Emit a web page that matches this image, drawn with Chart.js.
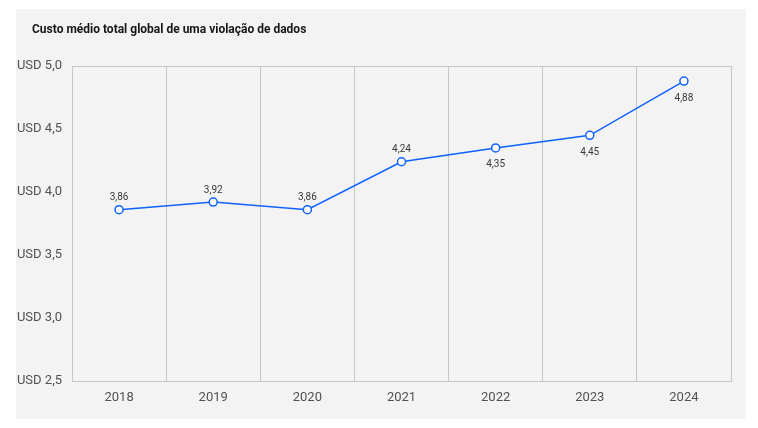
<!DOCTYPE html>
<html>
<head>
<meta charset="utf-8">
<script src="https://cdn.jsdelivr.net/npm/chart.js@4.4.1/dist/chart.umd.min.js"></script>
<style>
  html, body { margin: 0; padding: 0; background: #fff; }
  #wrap { width: 758px; height: 428px; }
</style>
</head>
<body>
<div id="wrap"><canvas id="mycanvas"></canvas></div>
<script>
var years = ['2018', '2019', '2020', '2021', '2022', '2023', '2024'];
var cost = [3.86, 3.92, 3.86, 4.24, 4.35, 4.45, 4.88];
var labelSide = ['top', 'top', 'top', 'top', 'bottom', 'bottom', 'bottom'];
var yTicks = [2.5, 3.0, 3.5, 4.0, 4.5, 5.0];
var titleText = 'Custo médio total global de uma violação de dados';

var FONT = "Roboto, 'Noto Sans', sans-serif";

function fmt(v, d) {
  return v.toFixed(d).replace('.', ',');
}

// gray panel behind the chart, plus the title in its top-left corner
var panelBg = {
  id: 'panelBg',
  beforeDraw: function(chart) {
    var c = chart.ctx;
    c.save();
    c.fillStyle = '#f3f3f3';
    c.fillRect(16, 9, 730, 410);
    c.font = 'bold 12px ' + FONT;
    c.fillStyle = '#161616';
    c.textAlign = 'left';
    c.textBaseline = 'middle';
    c.fillText(titleText, 32, 30);
    c.restore();
  }
};

// value labels next to the points
var valueLabels = {
  id: 'valueLabels',
  afterDatasetsDraw: function(chart) {
    var c = chart.ctx;
    var meta = chart.getDatasetMeta(0);
    c.save();
    c.font = '10px ' + FONT;
    c.fillStyle = '#393939';
    c.textAlign = 'center';
    c.textBaseline = 'middle';
    meta.data.forEach(function(pt, i) {
      var dy = labelSide[i] === 'top' ? -12 : 17;
      c.fillText(fmt(cost[i], 2), pt.x, pt.y + dy);
    });
    c.restore();
  }
};

var ctx = document.getElementById('mycanvas');

var chart = new Chart(ctx, {
  type: 'line',
  data: {
    labels: years,
    datasets: [{
      label: 'Custo médio total',
      data: cost,
      borderColor: '#0f62fe',
      borderWidth: 1.5,
      backgroundColor: '#ffffff',
      pointBackgroundColor: '#ffffff',
      pointBorderColor: '#0f62fe',
      pointBorderWidth: 1.5,
      pointRadius: 4,
      tension: 0
    }]
  },
  options: {
    responsive: true,
    maintainAspectRatio: false,
    animation: false,
    layout: { padding: { left: 0, right: 27, top: 66, bottom: 0 } },
    plugins: {
      legend: { display: false },
      tooltip: { enabled: false },
      title: { display: false }
    },
    scales: {
      x: {
        offset: true,
        grid: { offset: true, color: '#c6c6c6', drawTicks: false },
        border: { color: '#c6c6c6' },
        ticks: { color: '#525252', font: { family: FONT, size: 13 }, padding: 9 },
        afterFit: function(s) { s.height = 47; }
      },
      y: {
        min: 2.5,
        max: 5.0,
        afterBuildTicks: function(s) {
          s.ticks = yTicks.map(function(v) { return { value: v }; });
        },
        grid: {
          drawTicks: false,
          color: function(c) { return c.tick && c.tick.value === 5 ? '#c6c6c6' : 'rgba(0,0,0,0)'; }
        },
        border: { color: '#c6c6c6' },
        ticks: {
          color: '#525252',
          font: { family: FONT, size: 13 },
          padding: 10,
          callback: function(v) { return 'USD ' + fmt(v, 1); }
        },
        afterFit: function(s) { s.width = 72; }
      }
    }
  },
  plugins: [panelBg, valueLabels]
});
</script>
</body>
</html>
